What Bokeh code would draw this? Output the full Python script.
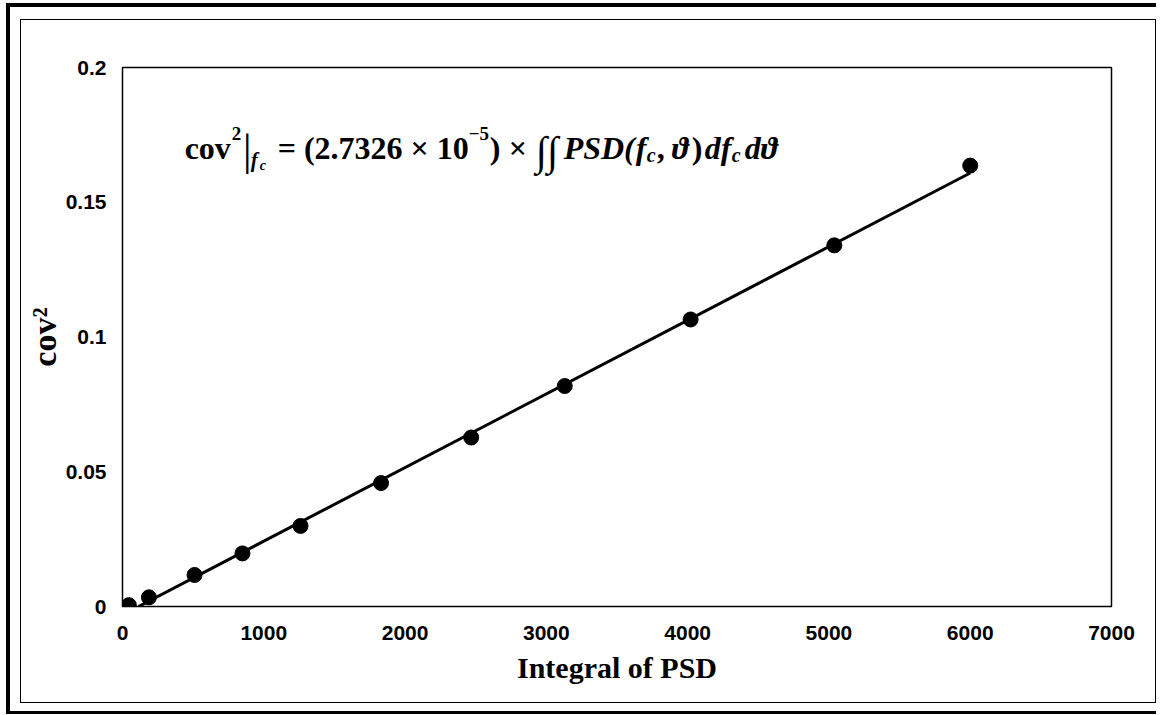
from bokeh.plotting import figure
from bokeh.layouts import column
from bokeh.models import ColumnDataSource, FixedTicker, Label
from bokeh.embed import file_html
from bokeh.resources import INLINE

# measured coefficient of variation squared vs. integrated PSD
integral_psd = [45, 187, 510, 849, 1260, 1830, 2468, 3130, 4021, 5038, 6000]
cov_sq = [0.0005, 0.0034, 0.0117, 0.0197, 0.0299, 0.0458, 0.0627, 0.0818, 0.1065, 0.1340, 0.1636]

# linear trend: slope from the fitted relation, small negative intercept
trend_slope = 2.7326e-5
trend_intercept = -0.0031

x_ticks = [0, 1000, 2000, 3000, 4000, 5000, 6000, 7000]
x_tick_labels = ["0", "1000", "2000", "3000", "4000", "5000", "6000", "7000"]
y_ticks = [0, 0.05, 0.1, 0.15, 0.2]
y_tick_labels = ["0", "0.05", "0.1", "0.15", "0.2"]

# figure sits inside two page frames drawn with CSS borders
p = figure(width=1134, height=682, output_backend="svg", toolbar_location=None,
           x_range=(0, 7000), y_range=(0, 0.2),
           min_border_left=101, min_border_right=44,
           min_border_top=47, min_border_bottom=96)
p.background_fill_color = "white"
p.border_fill_color = "white"
p.outline_line_color = "black"
p.outline_line_width = 1.5
p.xgrid.visible = False
p.ygrid.visible = False

SANS = "Liberation Sans"
SERIF = "Liberation Serif"

p.xaxis.ticker = FixedTicker(ticks=x_ticks)
p.xaxis.major_label_overrides = dict(zip(x_ticks, x_tick_labels))
p.yaxis.ticker = FixedTicker(ticks=y_ticks)
p.yaxis.major_label_overrides = dict(zip(y_ticks, y_tick_labels))

for ax in (p.xaxis, p.yaxis):
    ax.axis_line_color = None
    ax.major_tick_line_color = None
    ax.minor_tick_line_color = None
    ax.major_tick_out = 0
    ax.major_tick_in = 0
    ax.major_label_text_font = SANS
    ax.major_label_text_font_style = "bold"
    ax.major_label_text_font_size = "21px"
    ax.major_label_text_color = "black"
    ax.axis_label_text_font = SERIF
    ax.axis_label_text_font_style = "bold"
    ax.axis_label_text_color = "black"

p.xaxis.axis_label = "Integral of PSD"
p.xaxis.axis_label_text_font_size = "30px"
p.xaxis.major_label_standoff = 19
p.xaxis.axis_label_standoff = 8
p.yaxis.axis_label = "cov²"
p.yaxis.axis_label_text_font_size = "34px"
p.yaxis.major_label_standoff = 16
p.yaxis.axis_label_standoff = 0

# trend line, starting where it crosses zero
x_start = -trend_intercept / trend_slope
x_end = max(integral_psd)
trend_x = [x_start, x_end]
trend_y = [trend_slope * x + trend_intercept for x in trend_x]
p.line(trend_x, trend_y, line_color="black", line_width=3)

src = ColumnDataSource(dict(x=integral_psd, y=cov_sq))
p.scatter("x", "y", source=src, size=15, marker="circle",
          fill_color="black", line_color="black")

# fitted relation written out as a formula
ann_x, ann_y = 440, 0.1700
segments = [
    # text, dx, dy, size, style
    ("cov", 0, 0, 32, "bold"),
    ("2", 47, 15, 19, "bold"),
    ("|", 58, -2, 45, "normal"),
    ("f", 66, -12, 21, "bold italic"),
    ("c", 75, -17, 14, "bold italic"),
    ("= (2.7326 × 10", 93, 0, 32, "bold"),
    ("−5", 284, 15, 19, "bold"),
    (")", 305, 0, 32, "bold"),
    ("×", 324, 0, 32, "bold"),
    ("∫∫", 351, -3, 41, "italic"),
    ("PSD(", 379, 0, 32, "bold italic"),
    ("f", 451, 0, 32, "bold italic"),
    ("c", 462, -7, 20, "bold italic"),
    (",", 472, 0, 32, "bold"),
    ("ϑ", 487, 0, 32, "bold italic"),
    (")", 507, 0, 32, "bold"),
    ("df", 520, 0, 32, "bold italic"),
    ("c", 547, -7, 20, "bold italic"),
    ("dϑ", 560, 0, 32, "bold italic"),
]
for text, dx, dy, size, style in segments:
    p.add_layout(Label(x=ann_x, y=ann_y, x_offset=dx, y_offset=dy, text=text,
                       text_font=SERIF, text_font_size=f"{size}px",
                       text_font_style=style, text_color="black",
                       text_baseline="alphabetic", text_align="left"))

inner = column(p, styles={"border": "1.5px solid black", "background": "white"})
outer = column(inner, styles={
    "border-left": "4px solid black",
    "border-top": "4px solid black",
    "border-bottom": "3px solid black",
    "padding": "12px 0 8px 10px",
    "margin": "3px 0 0 6px",
    "background": "white",
})

open("out.html", "w").write(file_html(outer, INLINE))
